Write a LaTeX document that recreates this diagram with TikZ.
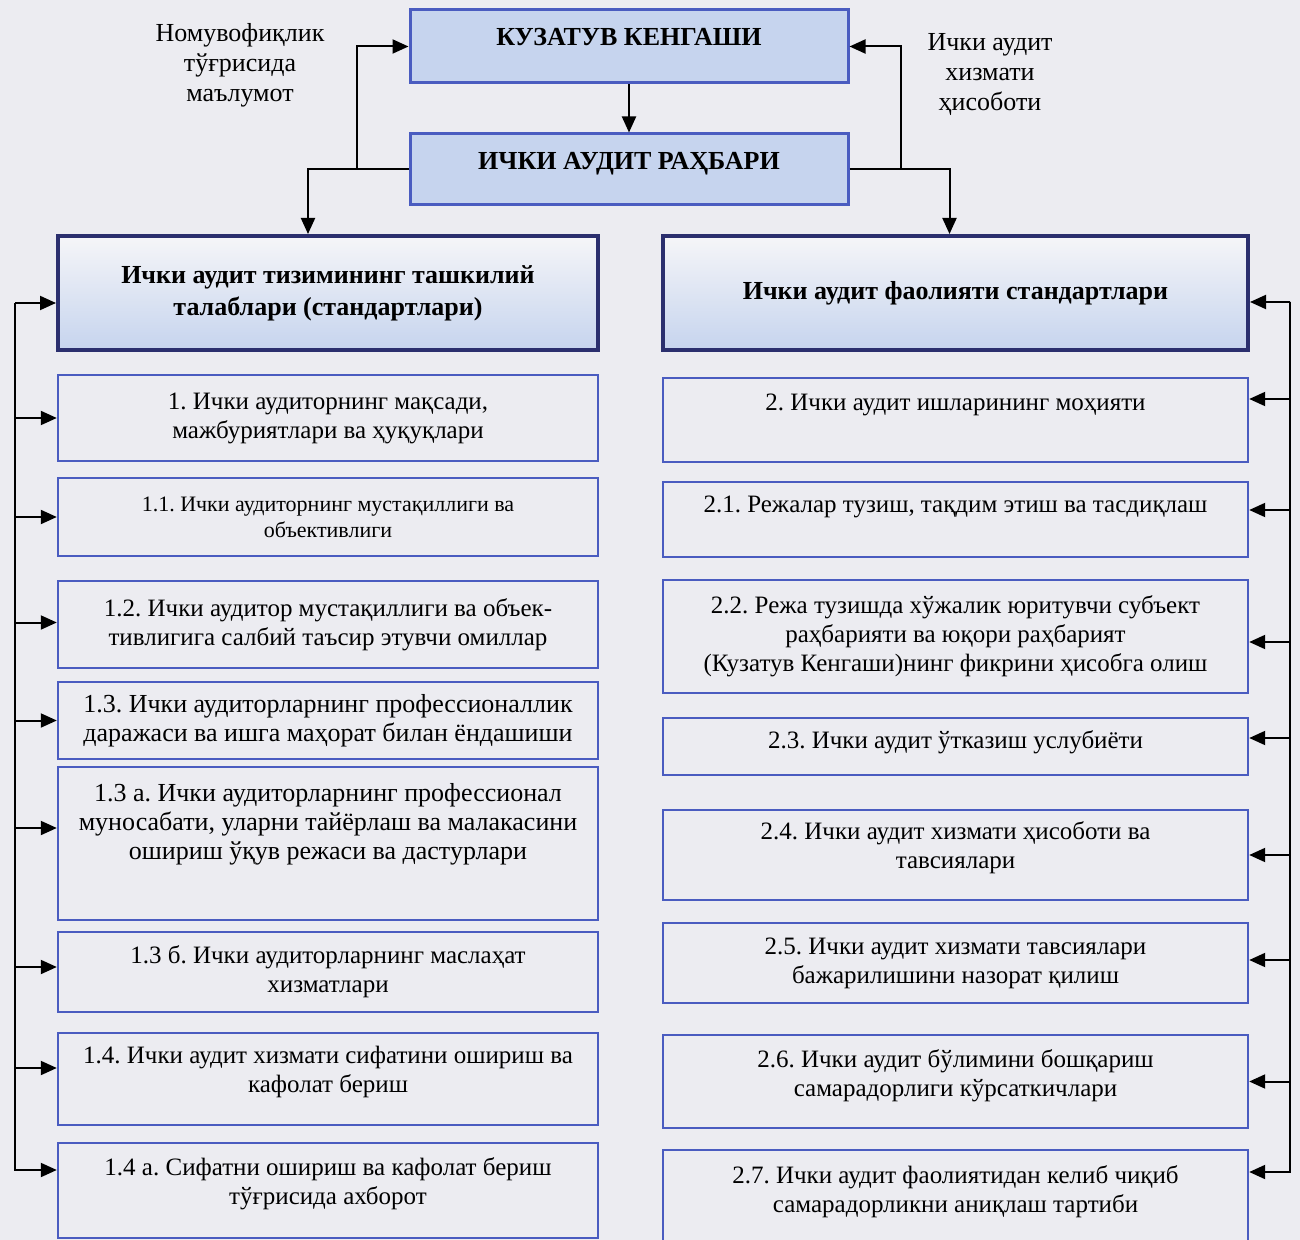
\documentclass[tikz,border=0pt]{standalone}
\usepackage{fontspec}
\setmainfont{Liberation Serif}
\usetikzlibrary{arrows.meta}
\frenchspacing

\definecolor{paper}{HTML}{ECECF1}
\definecolor{boxline}{HTML}{4A5CC0}
\definecolor{headline}{HTML}{2B2F6E}
\definecolor{headfill}{HTML}{C6D4EE}

\begin{document}
\begin{tikzpicture}[x=0.5pt,y=-0.5pt,>={Triangle[length=8pt,width=7pt]},line width=1pt,
                    every node/.style={font=\fontsize{12.5}{14.5}\selectfont,align=center,inner sep=2pt}]
  \tikzstyle{topbox}=[draw=boxline,line width=1.5pt,fill=headfill,minimum width=219pt,
                      font=\fontsize{13}{15}\selectfont\bfseries]
  \tikzstyle{headbox}=[draw=headline,line width=2pt,top color=paper!50!white,bottom color=headfill,
                       minimum height=57pt,font=\fontsize{13}{16}\selectfont\bfseries]
  \tikzstyle{itembox}=[draw=boxline,line width=1.2pt]
  \tikzstyle{leftitem}=[itembox,minimum width=270pt]
  \tikzstyle{rightitem}=[itembox,minimum width=292.5pt]
  \tikzstyle{bigtext}=[font=\fontsize{13}{14.5}\selectfont]
  \tikzstyle{remark}=[font=\fontsize{13}{15}\selectfont]
  \tikzstyle{elbow}=[to path={|- (\tikztotarget)}]

  \useasboundingbox (0,0) rectangle (1300,1240);
  \fill[paper] (0,0) rectangle (1300,1240);

  % top of the scheme
  \node[topbox,minimum height=36.5pt,text depth=10pt] (KK)  at (629,46.5)  {КУЗАТУВ КЕНГАШИ};
  \node[topbox,minimum height=35.5pt,text depth=9pt]  (IAR) at (629,169.5) {ИЧКИ АУДИТ РАҲБАРИ};
  \node[remark] (nomuv)   at (240,65) {Номувофиқлик\\тўғрисида\\маълумот};
  \node[remark] (hisobot) at (990,75) {Ички аудит\\хизмати\\ҳисоботи};

  % two columns
  \node[headbox,minimum width=270pt]   (L0) at (328,293)   {Ички аудит тизимининг ташкилий\\талаблари (стандартлари)};
  \node[headbox,minimum width=292.5pt] (R0) at (955.5,293) {Ички аудит фаолияти стандартлари};

  \node[leftitem,minimum height=43pt]   (L1)   at (328,418)    {1. Ички аудиторнинг мақсади,\\мажбуриятлари ва ҳуқуқлари};
  \node[leftitem,minimum height=39pt,font=\fontsize{11}{13}\selectfont]
                                        (L11)  at (328,517)    {1.1. Ички аудиторнинг мустақиллиги ва\\объективлиги};
  \node[leftitem,minimum height=43.5pt] (L12)  at (328,624.5)  {1.2. Ички аудитор мустақиллиги ва объек-\\тивлигига салбий таъсир этувчи омиллар};
  \node[leftitem,bigtext,minimum height=38.5pt]
                                        (L13)  at (328,720.5)  {1.3. Ички аудиторларнинг профессионаллик\\даражаси ва ишга маҳорат билан ёндашиши};
  \node[leftitem,bigtext,minimum height=76.5pt,text depth=22pt]
                                        (L13a) at (328,843.5)  {1.3 а. Ички аудиторларнинг профессионал\\муносабати, уларни тайёрлаш ва малакасини\\ошириш ўқув режаси ва дастурлари};
  \node[leftitem,minimum height=40pt]   (L13b) at (328,972)    {1.3 б. Ички аудиторларнинг маслаҳат\\хизматлари};
  \node[leftitem,minimum height=46pt,text depth=10pt]
                                        (L14)  at (328,1079)   {1.4. Ички аудит хизмати сифатини ошириш ва\\кафолат бериш};
  \node[leftitem,minimum height=47.5pt,text depth=9.5pt]
                                        (L14a) at (328,1190.5) {1.4 а. Сифатни ошириш ва кафолат бериш\\тўғрисида ахборот};

  \node[rightitem,minimum height=42pt,text depth=18pt]   (R2)  at (955.5,420)    {2. Ички аудит ишларининг моҳияти};
  \node[rightitem,minimum height=37.5pt,text depth=15.5pt] (R21) at (955.5,519.5) {2.1. Режалар тузиш, тақдим этиш ва тасдиқлаш};
  \node[rightitem,minimum height=56.5pt] (R22) at (955.5,636.5) {2.2. Режа тузишда хўжалик юритувчи субъект\\раҳбарияти ва юқори раҳбарият\\(Кузатув Кенгаши)нинг фикрини ҳисобга олиш};
  \node[rightitem,minimum height=28.5pt,text depth=7pt] (R23) at (955.5,746.5) {2.3. Ички аудит ўтказиш услубиёти};
  \node[rightitem,minimum height=45pt,text depth=10pt]  (R24) at (955.5,855)   {2.4. Ички аудит хизмати ҳисоботи ва\\тавсиялари};
  \node[rightitem,minimum height=40pt]  (R25) at (955.5,963)   {2.5. Ички аудит хизмати тавсиялари\\бажарилишини назорат қилиш};
  \node[rightitem,minimum height=46.5pt,text depth=8.5pt] (R26) at (955.5,1081.5) {2.6. Ички аудит бўлимини бошқариш\\самарадорлиги кўрсаткичлари};
  \node[rightitem,minimum height=48pt,text depth=9pt]   (R27) at (955.5,1198)  {2.7. Ички аудит фаолиятидан келиб чиқиб\\самарадорликни аниқлаш тартиби};

  \coordinate (ltop) at (15,303);
  \coordinate (rtop) at (1290,302);

  % links between the heads
  \draw[->] (KK) -- (IAR);
  \draw[->] (IAR.west) -| ([xshift=-10pt]L0.north);
  \draw[->] ([xshift=-26pt]IAR.west) |- (KK.west);
  \draw[->] (IAR.east) -| ([xshift=-3pt]R0.north);
  \draw[->] ([xshift=25.5pt]IAR.east) |- (KK.east);

  % left rail
  \path[->] (ltop) edge[elbow] (ltop -| L0.west)
            (ltop) edge[elbow] (L1.west)
            (ltop) edge[elbow] (L11.west)
            (ltop) edge[elbow] ([yshift=1pt]L12.west)
            (ltop) edge[elbow] (L13.west)
            (ltop) edge[elbow] ([yshift=7.75pt]L13a.west)
            (ltop) edge[elbow] ([yshift=2.5pt]L13b.west)
            (ltop) edge[elbow] ([yshift=5.5pt]L14.west)
            (ltop) edge[elbow] ([yshift=10.25pt]L14a.west);

  % right rail
  \path[->] (rtop) edge[elbow] (rtop -| R0.east)
            (rtop) edge[elbow] ([yshift=10.5pt]R2.east)
            (rtop) edge[elbow] ([yshift=4.75pt]R21.east)
            (rtop) edge[elbow] ([yshift=-2.75pt]R22.east)
            (rtop) edge[elbow] ([yshift=4.25pt]R23.east)
            (rtop) edge[elbow] (R24.east)
            (rtop) edge[elbow] ([yshift=1.5pt]R25.east)
            (rtop) edge[elbow] (R26.east)
            (rtop) edge[elbow] ([yshift=13pt]R27.east);
\end{tikzpicture}
\end{document}
